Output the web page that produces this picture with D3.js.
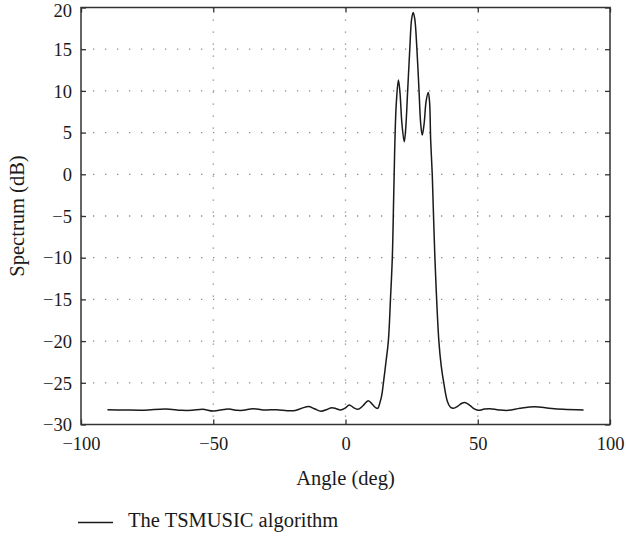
<!DOCTYPE html>
<html>
<head>
<meta charset="utf-8">
<script src="https://cdn.jsdelivr.net/npm/d3@7"></script>
<style>
  body { margin: 0; background: #fff; }
  svg { display: block; }
</style>
</head>
<body>
<div id="chart"></div>
<script>
// angle (deg) and spectrum (dB)
const angles = [
  -90, -84, -76, -68, -62, -58, -54, -50, -46, -44, -41, -38.6, -35, -31, -26, -22, -19,
  -16.5, -13.8, -11.5, -9.3, -7, -5.2, -3.5, -1.9, 0, 1.4, 3.2, 4.8, 6.6, 8.6, 10.2, 11.5,
  12.2, 13.0, 13.7, 14.3, 15.3, 16.2, 17.0, 17.7, 18.2, 18.6, 19.2, 20.0, 20.6, 21.3, 22.2,
  22.7, 23.5, 24.3, 25.0, 25.6, 26.2, 27.0, 27.8, 28.4, 29.0, 29.7, 30.5, 31.3, 31.8, 32.2,
  32.8, 33.8, 35.3, 36.2, 37.2, 38.5, 39.6, 40.8, 42.5, 44.0, 45.4, 47, 48.5, 50.2, 52.5,
  54.6, 58, 61.6, 66, 71.6, 77, 82.3, 90
];
const spectrum = [
  -28.23, -28.26, -28.28, -28.14, -28.3, -28.3, -28.18, -28.38, -28.2, -28.14, -28.3, -28.3, -28.1, -28.26, -28.22, -28.35, -28.32,
  -28.05, -27.85, -28.15, -28.4, -28.2, -27.98, -28.1, -28.26, -28.0, -27.66, -28.0, -28.18, -27.75, -27.15, -27.6, -28.0,
  -28.06, -27.4, -26.5, -25.1, -22.5, -20, -15, -10, -3, 3, 8.5, 11.3, 9.8, 6.2, 3.9,
  5.2, 10, 15, 18.6, 19.4, 18.6, 15, 10, 6.2, 4.7, 6, 8.8, 9.8, 8.6, 4.1,
  0, -10, -20, -23, -25.1, -27.2, -27.9, -28.06, -27.8, -27.45, -27.38, -27.7, -28.1, -28.3, -28.15,
  -28.1, -28.25, -28.3, -28.05, -27.87, -28.05, -28.18, -28.26
];
const xTicks = [-100, -50, 0, 50, 100];
const yTicks = [-30, -25, -20, -15, -10, -5, 0, 5, 10, 15, 20];
const seriesName = 'The TSMUSIC algorithm';

const width = 626, height = 539;
const margin = { left: 81, right: 16, top: 7.5, bottom: 114.5 };
const font = '"Liberation Serif", "Times New Roman", serif';
const ink = '#1a1a1a';

const svg = d3.select('#chart').append('svg')
  .attr('width', width).attr('height', height)
  .style('font-family', font);

const x = d3.scaleLinear().domain([-100, 100]).range([margin.left, width - margin.right]);
const y = d3.scaleLinear().domain([-30, 20]).range([height - margin.bottom, margin.top]);

const [x0, x1] = x.range();
const [y0, y1] = y.range();
const minus = d => String(d).replace('-', '\u2212');

// dotted grid
const grid = svg.append('g').attr('stroke', '#8a8a8a').attr('stroke-width', 1.3)
  .attr('stroke-dasharray', '1.3,10.7');
grid.selectAll('line.gx').data(xTicks.slice(1, -1)).join('line')
  .attr('x1', d => x(d)).attr('x2', d => x(d)).attr('y1', y1).attr('y2', y0);
grid.selectAll('line.gy').data(yTicks.slice(1, -1)).join('line')
  .attr('x1', x0).attr('x2', x1).attr('y1', d => y(d)).attr('y2', d => y(d));

// curve
const pts = angles.map((a, i) => [a, spectrum[i]]);
const line = d3.line().x(d => x(d[0])).y(d => y(d[1])).curve(d3.curveCatmullRom.alpha(0.5));
svg.append('path').attr('d', line(pts))
  .attr('fill', 'none').attr('stroke', ink).attr('stroke-width', 1.5);

// axes with inward ticks, mirrored on top/right
const tickLen = 5;
const axB = svg.append('g').attr('transform', `translate(0,${y0})`)
  .call(d3.axisBottom(x).tickValues(xTicks).tickSizeInner(-tickLen).tickSizeOuter(0).tickFormat(minus));
const axT = svg.append('g').attr('transform', `translate(0,${y1})`)
  .call(d3.axisTop(x).tickValues(xTicks).tickSizeInner(-tickLen).tickSizeOuter(0).tickFormat(''));
const axL = svg.append('g').attr('transform', `translate(${x0},0)`)
  .call(d3.axisLeft(y).tickValues(yTicks).tickSizeInner(-tickLen).tickSizeOuter(0).tickPadding(9)
    .tickFormat(minus));
const axR = svg.append('g').attr('transform', `translate(${x1},0)`)
  .call(d3.axisRight(y).tickValues(yTicks).tickSizeInner(-tickLen).tickSizeOuter(0).tickFormat(''));

[axB, axT, axL, axR].forEach(a => {
  a.select('.domain').remove();
  a.selectAll('line').attr('stroke', '#333').attr('stroke-width', 1.3);
  a.selectAll('text').attr('fill', ink).style('font-family', font).style('font-size', '18.5px');
});
axB.selectAll('text').attr('y', 25.5).attr('dy', 0);
axL.selectAll('text').attr('dy', '0.34em');
// keep the top label inside the page
axL.selectAll('.tick').filter(d => d === 20).select('text').attr('y', 3);

svg.append('rect').attr('x', x0).attr('y', y1).attr('width', x1 - x0).attr('height', y0 - y1)
  .attr('fill', 'none').attr('stroke', '#333').attr('stroke-width', 1.5);

// axis titles
svg.append('text').attr('x', (x0 + x1) / 2).attr('y', 485)
  .attr('text-anchor', 'middle').attr('fill', ink).style('font-size', '20.5px')
  .text('Angle (deg)');
svg.append('text').attr('transform', `translate(24,${(y0 + y1) / 2}) rotate(-90)`)
  .attr('text-anchor', 'middle').attr('fill', ink).style('font-size', '20.5px')
  .text('Spectrum (dB)');

// legend
svg.append('line').attr('x1', 78).attr('x2', 113).attr('y1', 522.5).attr('y2', 522.5)
  .attr('stroke', ink).attr('stroke-width', 1.3);
svg.append('text').attr('x', 128).attr('y', 527)
  .attr('fill', ink).style('font-size', '20.5px')
  .text(seriesName);
</script>
</body>
</html>
